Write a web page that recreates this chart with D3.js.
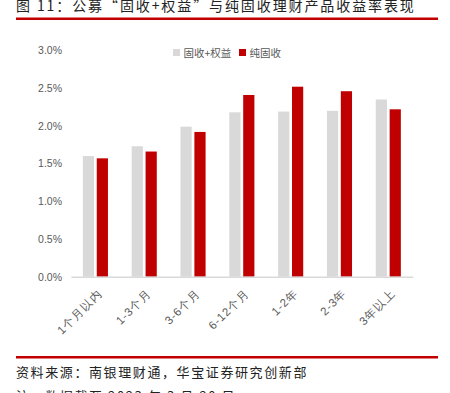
<!DOCTYPE html>
<html>
<head>
<meta charset="utf-8">
<script src="https://cdn.jsdelivr.net/npm/d3@7"></script>
<style>
  body { margin: 0; background: #fff; }
  svg { display: block; font-family: "Noto Sans CJK SC", "Liberation Sans", sans-serif; }
</style>
</head>
<body>
<div id="chart"></div>
<script>
var width = 450;
var height = 393;

// data (percent)
var periods = ["1个月以内", "1-3个月", "3-6个月", "6-12个月", "1-2年", "2-3年", "3年以上"];
var seriesNames = ["固收+权益", "纯固收"];
var mixedValues = [1.60, 1.73, 1.99, 2.18, 2.19, 2.20, 2.35];
var pureValues = [1.57, 1.66, 1.92, 2.41, 2.52, 2.46, 2.22];
var yTicks = [0, 0.5, 1.0, 1.5, 2.0, 2.5, 3.0];
var colors = ["#d9d9d9", "#c00000"];

var rows = periods.map(function(p, i) {
  return { period: p, values: [mixedValues[i], pureValues[i]] };
});

var svg = d3.select("#chart")
  .append("svg")
  .attr("width", width)
  .attr("height", height);

// title
svg.append("text")
  .attr("x", 16)
  .attr("y", 11)
  .style("font-size", "14px")
  .style("fill", "#222")
  .style("letter-spacing", "1.9px")
  .text("图 11：公募“固收+权益”与纯固收理财产品收益率表现");

svg.append("rect")
  .attr("x", 16).attr("y", 17.5)
  .attr("width", 422).attr("height", 2.5)
  .attr("fill", "#c00000");

// scales
var xScale = d3.scaleBand()
  .domain(periods)
  .range([71, 412.7]);

var yScale = d3.scaleLinear()
  .domain([0, 3])
  .range([276.7, 50.5]);

var barW = 11.2;
var gap = 2.7;

// y axis labels
var yAxis = d3.axisLeft(yScale)
  .tickValues(yTicks)
  .tickSize(0)
  .tickPadding(0)
  .tickFormat(function(d) { return d.toFixed(1) + "%"; });

var yG = svg.append("g")
  .attr("transform", "translate(62,0)")
  .call(yAxis);
yG.select(".domain").remove();
yG.selectAll("text")
  .style("font-family", "Liberation Sans, Arial, sans-serif")
  .style("font-size", "10.5px")
  .style("fill", "#595959");

// bars
var groups = svg.selectAll(".group")
  .data(rows)
  .enter()
  .append("g")
  .attr("class", "group")
  .attr("transform", function(d) {
    return "translate(" + (xScale(d.period) + xScale.bandwidth() / 2) + ",0)";
  });

groups.selectAll("rect")
  .data(function(d) { return d.values; })
  .enter()
  .append("rect")
  .attr("x", function(d, i) {
    return i === 0 ? -(barW + gap / 2) : gap / 2;
  })
  .attr("y", function(d) { return yScale(d); })
  .attr("width", barW)
  .attr("height", function(d) { return yScale(0) - yScale(d); })
  .attr("fill", function(d, i) { return colors[i]; });

// x axis
var xAxis = d3.axisBottom(xScale).tickSize(0).tickPadding(0);
var xG = svg.append("g")
  .attr("transform", "translate(0," + yScale(0) + ")")
  .call(xAxis);
xG.select(".domain")
  .attr("stroke", "#d9d9d9")
  .attr("stroke-width", 1.5);
xG.selectAll("text")
  .attr("y", 0)
  .attr("dy", 0)
  .attr("transform", "translate(8,17) rotate(-45)")
  .style("text-anchor", "end")
  .style("font-size", "11.5px")
  .style("letter-spacing", "0.8px")
  .style("fill", "#595959");

// legend
var legend = svg.append("g").attr("transform", "translate(173,49)");
var legX = [0, 66];
seriesNames.forEach(function(name, i) {
  legend.append("rect")
    .attr("x", legX[i]).attr("y", 0)
    .attr("width", 7).attr("height", 7)
    .attr("fill", colors[i]);
  legend.append("text")
    .attr("x", legX[i] + 10.5).attr("y", 7.5)
    .style("font-size", "10.5px")
    .style("fill", "#595959")
    .text(name);
});

// footer
svg.append("rect")
  .attr("x", 16).attr("y", 356)
  .attr("width", 422).attr("height", 2.5)
  .attr("fill", "#c00000");

svg.append("text")
  .attr("x", 16)
  .attr("y", 377)
  .style("font-size", "13px")
  .style("fill", "#222")
  .style("letter-spacing", "1.6px")
  .text("资料来源：南银理财通，华宝证券研究创新部");

svg.append("text")
  .attr("x", 16)
  .attr("y", 401)
  .style("font-size", "13px")
  .style("fill", "#222")
  .style("letter-spacing", "1.6px")
  .text("注：数据截至 2023 年 3 月 20 日");
</script>
</body>
</html>
